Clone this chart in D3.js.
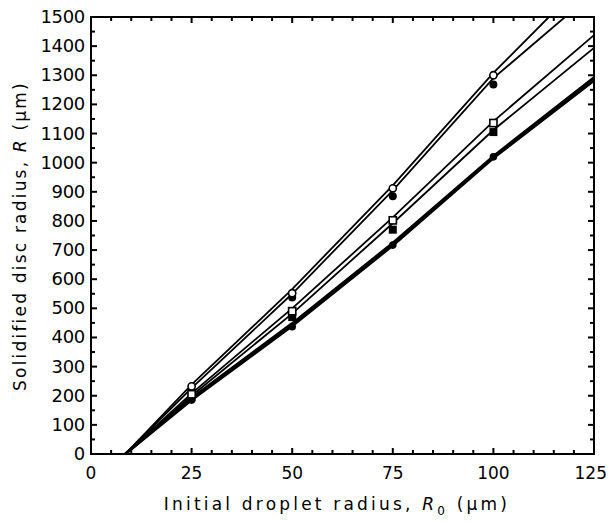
<!DOCTYPE html>
<html><head><meta charset="utf-8">
<script src="https://cdn.jsdelivr.net/npm/d3@7"></script>
<style>body{margin:0;background:#fff}svg{display:block}text{font-family:"DejaVu Sans",sans-serif;fill:#000}</style>
</head><body><svg id="c" width="609" height="522"></svg>
<script>
// X ticks (initial droplet radius, µm)
const xTicks = [0, 25, 50, 75, 100, 125];
const yTicks = [0,100,200,300,400,500,600,700,800,900,1000,1100,1200,1300,1400,1500];
// Fitted lines: [R0, R] vertices
const lineOpenCircleA = [[8.5,0],[25,238],[50,566],[75,922],[100,1308],[113.8,1500]];
const lineOpenCircleB = [[8.5,0],[25,226],[50,550],[75,905],[100,1290],[117.8,1500]];
const lineSquareA = [[8.5,0],[25,208],[50,500],[75,812],[100,1142],[125,1438]];
const lineSquareB = [[8.5,0],[25,200],[50,482],[75,792],[100,1112],[125,1394]];
const lineBottomA = [[8.5,0],[25,192],[50,448],[75,724],[100,1022],[125,1292]];
const lineBottomB = [[8.5,0],[25,186],[50,440],[75,716],[100,1016],[125,1282]];
// Measured points
const r0Values = [25, 50, 75, 100];
const openCircle = [232, 552, 912, 1300];
const filledCircle = [215, 537, 885, 1268];
const openSquare = [205, 490, 802, 1136];
const filledSquare = [195, 470, 770, 1105];
const filledSmall = [185, 437, 717, 1020];

const svg = d3.select("#c");
const L = 91, R = 594, T = 17, B = 454;
const x = d3.scaleLinear().domain([0,125]).range([L,R]);
const y = d3.scaleLinear().domain([0,1500]).range([B,T]);

// ticks inward
const g = svg.append("g");
const minorX = d3.range(0,126,5), minorY = d3.range(0,1501,50);
minorX.forEach(v=>{
  const len = v%25===0 ? 6 : 4;
  g.append("line").attr("x1",x(v)).attr("x2",x(v)).attr("y1",B).attr("y2",B-len).attr("stroke","#000").attr("stroke-width",2);
  g.append("line").attr("x1",x(v)).attr("x2",x(v)).attr("y1",T).attr("y2",T+len).attr("stroke","#000").attr("stroke-width",2);
});
minorY.forEach(v=>{
  const len = v%100===0 ? 6 : 4;
  g.append("line").attr("x1",L).attr("x2",L+len).attr("y1",y(v)).attr("y2",y(v)).attr("stroke","#000").attr("stroke-width",2);
  g.append("line").attr("x1",R).attr("x2",R-len).attr("y1",y(v)).attr("y2",y(v)).attr("stroke","#000").attr("stroke-width",2);
});
svg.append("rect").attr("x",L).attr("y",T).attr("width",R-L).attr("height",B-T).attr("fill","none").attr("stroke","#000").attr("stroke-width",2);

// tick labels
svg.append("g").selectAll("text").data(xTicks).join("text")
  .attr("x",d=>d===125 ? 607 : x(d)).attr("y",B+25)
  .attr("text-anchor",d=>d===125 ? "end" : "middle").attr("font-size",17).text(d=>d);
svg.append("g").selectAll("text").data(yTicks).join("text")
  .attr("x",L-6).attr("y",d=>y(d)+6).attr("text-anchor","end").attr("font-size",18).attr("letter-spacing","-0.3").text(d=>d);

// axis titles
const xt = svg.append("text").attr("x",337).attr("y",510).attr("text-anchor","middle").attr("font-size",17).attr("letter-spacing","3.2");
xt.append("tspan").text("Initial droplet radius, ");
xt.append("tspan").attr("font-style","italic").text("R");
xt.append("tspan").attr("font-size",12).attr("dy",5).text("0");
xt.append("tspan").attr("dy",-5).text(" (μm)");
const yt = svg.append("text").attr("transform","translate(26,236) rotate(-90)").attr("text-anchor","middle").attr("font-size",17).attr("letter-spacing","2.2");
yt.append("tspan").text("Solidified disc radius, ");
yt.append("tspan").attr("font-style","italic").text("R");
yt.append("tspan").text(" (μm)");

// lines
const line = d3.line().x(d=>x(d[0])).y(d=>y(d[1]));
svg.append("clipPath").attr("id","cp").append("rect").attr("x",L).attr("y",T).attr("width",R-L).attr("height",B-T);
const lg = svg.append("g").attr("clip-path","url(#cp)");
[[lineOpenCircleA,1.8],[lineOpenCircleB,1.8],[lineSquareA,1.8],[lineSquareB,1.8],[lineBottomA,2.8],[lineBottomB,2.8]].forEach(([d,w])=>{
  lg.append("path").attr("d",line(d)).attr("fill","none").attr("stroke","#000").attr("stroke-width",w);
});

// markers
const mg = svg.append("g");
mg.append("g").selectAll("circle").data(filledCircle).join("circle").attr("cx",(d,i)=>x(r0Values[i])).attr("cy",d=>y(d)).attr("r",4).attr("fill","#000");
mg.append("g").selectAll("rect").data(filledSquare).join("rect").attr("x",(d,i)=>x(r0Values[i])-4).attr("y",d=>y(d)-4).attr("width",8).attr("height",8).attr("fill","#000");
mg.append("g").selectAll("circle").data(filledSmall).join("circle").attr("cx",(d,i)=>x(r0Values[i])).attr("cy",d=>y(d)).attr("r",3.8).attr("fill","#000");
mg.append("g").selectAll("circle").data(openCircle).join("circle").attr("cx",(d,i)=>x(r0Values[i])).attr("cy",d=>y(d)).attr("r",3.6).attr("fill","#fff").attr("stroke","#000").attr("stroke-width",1.6);
mg.append("g").selectAll("rect").data(openSquare).join("rect").attr("x",(d,i)=>x(r0Values[i])-3.6).attr("y",d=>y(d)-3.6).attr("width",7.2).attr("height",7.2).attr("fill","#fff").attr("stroke","#000").attr("stroke-width",1.6);
</script></body></html>
